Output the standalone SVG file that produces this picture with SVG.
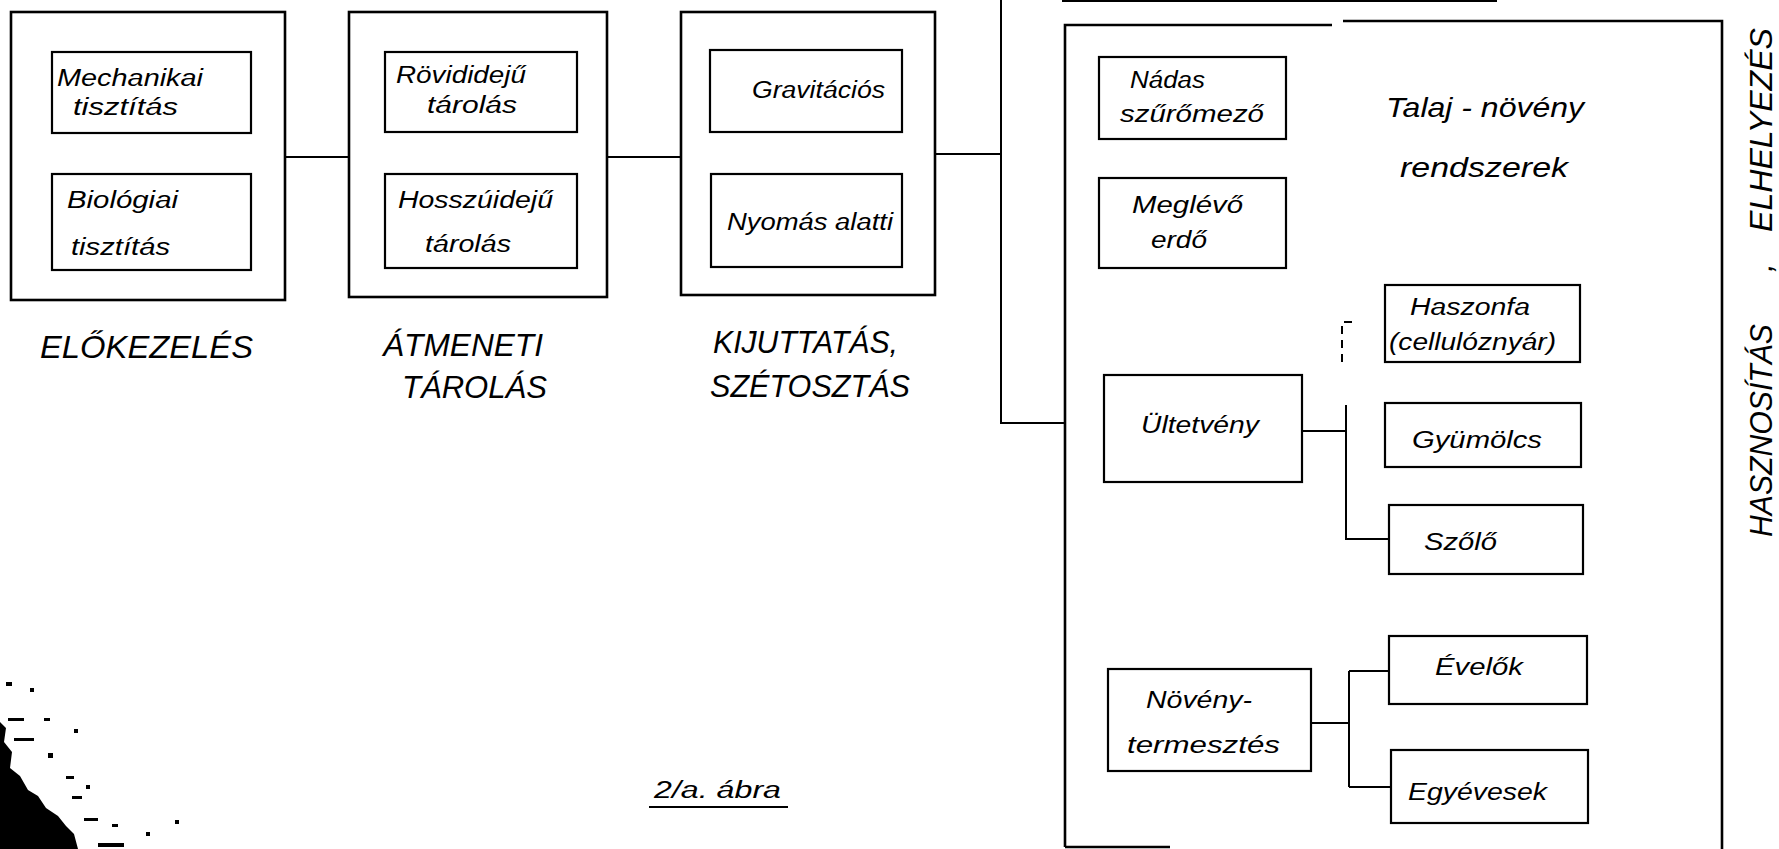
<svg xmlns="http://www.w3.org/2000/svg" width="1779" height="849" viewBox="0 0 1779 849">
<style>
.b{fill:none;stroke:#000;stroke-width:2.2}
.ob{fill:none;stroke:#000;stroke-width:2.6}
.c{fill:none;stroke:#000;stroke-width:2}
.t{font-family:"Liberation Sans",Arial,sans-serif;font-style:italic;font-size:23px;fill:#000}
.h{font-family:"Liberation Sans",Arial,sans-serif;font-style:italic;font-size:31px;fill:#000}
.m{font-family:"Liberation Sans",Arial,sans-serif;font-style:italic;font-size:28px;fill:#000}
.n{fill:#000}
</style>
<rect width="1779" height="849" fill="#fff"/>
<g id="connectors">
<path class="c" d="M285,157 H349"/>
<path class="c" d="M607,157 H681"/>
<path class="c" d="M935,154 H1001"/>
<path class="c" d="M1001,0 V423 H1066"/>
<path class="c" d="M1302,431 H1346"/>
<path class="c" d="M1346,405 V539 H1389"/>
<path class="c" d="M1311,723 H1349"/>
<path class="c" d="M1349,671 V787"/>
<path class="c" d="M1349,671 H1389"/>
<path class="c" d="M1349,787 H1391"/>
<path class="c" d="M1062,1 H1497"/>
<path class="c" d="M1352,322 H1342 V362" stroke-dasharray="8,6"/>
</g>
<g id="elokezeles">
<rect class="ob" x="11" y="12" width="274" height="288"/>
<text class="h" x="40" y="358" textLength="213" lengthAdjust="spacingAndGlyphs">ELŐKEZELÉS</text>
</g>
<g id="mechanikai">
<rect class="b" x="52" y="52" width="199" height="81"/>
<text class="t" x="57" y="86" textLength="146" lengthAdjust="spacingAndGlyphs">Mechanikai</text>
<text class="t" x="73" y="115" textLength="105" lengthAdjust="spacingAndGlyphs">tisztítás</text>
</g>
<g id="biologiai">
<rect class="b" x="52" y="174" width="199" height="96"/>
<text class="t" x="67" y="208" textLength="111" lengthAdjust="spacingAndGlyphs">Biológiai</text>
<text class="t" x="71" y="255" textLength="99" lengthAdjust="spacingAndGlyphs">tisztítás</text>
</g>
<g id="atmeneti">
<rect class="ob" x="349" y="12" width="258" height="285"/>
<text class="h" x="383" y="356" textLength="160" lengthAdjust="spacingAndGlyphs">ÁTMENETI</text>
<text class="h" x="402" y="398" textLength="145" lengthAdjust="spacingAndGlyphs">TÁROLÁS</text>
</g>
<g id="rovideju">
<rect class="b" x="385" y="52" width="192" height="80"/>
<text class="t" x="396" y="83" textLength="130" lengthAdjust="spacingAndGlyphs">Rövididejű</text>
<text class="t" x="427" y="113" textLength="90" lengthAdjust="spacingAndGlyphs">tárolás</text>
</g>
<g id="hosszuideju">
<rect class="b" x="385" y="174" width="192" height="94"/>
<text class="t" x="398" y="208" textLength="155" lengthAdjust="spacingAndGlyphs">Hosszúidejű</text>
<text class="t" x="425" y="252" textLength="86" lengthAdjust="spacingAndGlyphs">tárolás</text>
</g>
<g id="kijuttatas">
<rect class="ob" x="681" y="12" width="254" height="283"/>
<text class="h" x="713" y="353" textLength="185" lengthAdjust="spacingAndGlyphs">KIJUTTATÁS,</text>
<text class="h" x="710" y="397" textLength="200" lengthAdjust="spacingAndGlyphs">SZÉTOSZTÁS</text>
</g>
<g id="gravitacios">
<rect class="b" x="710" y="50" width="192" height="82"/>
<text class="t" x="752" y="98" textLength="133" lengthAdjust="spacingAndGlyphs">Gravitációs</text>
</g>
<g id="nyomas">
<rect class="b" x="711" y="174" width="191" height="93"/>
<text class="t" x="727" y="230" textLength="166" lengthAdjust="spacingAndGlyphs">Nyomás alatti</text>
</g>
<g id="talaj-noveny">
<path class="ob" d="M1065,847 V25 H1332 M1343,21 H1722 V849 M1065,847 H1170"/>
<text class="m" x="1386" y="117" textLength="198" lengthAdjust="spacingAndGlyphs">Talaj - növény</text>
<text class="m" x="1400" y="177" textLength="168" lengthAdjust="spacingAndGlyphs">rendszerek</text>
</g>
<g id="nadas">
<rect class="b" x="1099" y="57" width="187" height="82"/>
<text class="t" x="1130" y="88" textLength="75" lengthAdjust="spacingAndGlyphs">Nádas</text>
<text class="t" x="1120" y="122" textLength="144" lengthAdjust="spacingAndGlyphs">szűrőmező</text>
</g>
<g id="meglevo">
<rect class="b" x="1099" y="178" width="187" height="90"/>
<text class="t" x="1132" y="213" textLength="111" lengthAdjust="spacingAndGlyphs">Meglévő</text>
<text class="t" x="1151" y="248" textLength="56" lengthAdjust="spacingAndGlyphs">erdő</text>
</g>
<g id="haszonfa">
<rect class="b" x="1385" y="285" width="195" height="77"/>
<text class="t" x="1410" y="315" textLength="120" lengthAdjust="spacingAndGlyphs">Haszonfa</text>
<text class="t" x="1389" y="350" textLength="167" lengthAdjust="spacingAndGlyphs">(cellulóznyár)</text>
</g>
<g id="ultetveny">
<rect class="b" x="1104" y="375" width="198" height="107"/>
<text class="t" x="1141" y="433" textLength="118" lengthAdjust="spacingAndGlyphs">Ültetvény</text>
</g>
<g id="gyumolcs">
<rect class="b" x="1385" y="403" width="196" height="64"/>
<text class="t" x="1412" y="448" textLength="130" lengthAdjust="spacingAndGlyphs">Gyümölcs</text>
</g>
<g id="szolo">
<rect class="b" x="1389" y="505" width="194" height="69"/>
<text class="t" x="1424" y="550" textLength="73" lengthAdjust="spacingAndGlyphs">Szőlő</text>
</g>
<g id="novenytermesztes">
<rect class="b" x="1108" y="669" width="203" height="102"/>
<text class="t" x="1146" y="708" textLength="106" lengthAdjust="spacingAndGlyphs">Növény-</text>
<text class="t" x="1127" y="753" textLength="153" lengthAdjust="spacingAndGlyphs">termesztés</text>
</g>
<g id="evelok">
<rect class="b" x="1389" y="636" width="198" height="68"/>
<text class="t" x="1435" y="675" textLength="88" lengthAdjust="spacingAndGlyphs">Évelők</text>
</g>
<g id="egyevesek">
<rect class="b" x="1391" y="750" width="197" height="73"/>
<text class="t" x="1408" y="800" textLength="139" lengthAdjust="spacingAndGlyphs">Egyévesek</text>
</g>
<g id="side-labels">
<text class="h" transform="translate(1772,232) rotate(-90)" x="0" y="0" textLength="204" lengthAdjust="spacingAndGlyphs">ELHELYEZÉS</text>
<text class="h" transform="translate(1772,537) rotate(-90)" x="0" y="0" textLength="213" lengthAdjust="spacingAndGlyphs">HASZNOSÍTÁS</text>
<text class="h" transform="translate(1772,272) rotate(-90)" x="0" y="0">,</text>
</g>
<g id="caption">
<text class="t" x="654" y="798" textLength="127" lengthAdjust="spacingAndGlyphs">2/a. ábra</text>
<path class="c" d="M649,807 H788"/>
</g>
<g id="scan-noise">
<path class="n" d="M0,722 L6,728 L4,742 L12,752 L10,768 L20,776 L28,790 L38,796 L46,808 L58,816 L66,826 L74,834 L78,849 L0,849 Z"/>
<rect class="n" x="6" y="682" width="6" height="4"/>
<rect class="n" x="30" y="688" width="4" height="4"/>
<rect class="n" x="8" y="718" width="16" height="3"/>
<rect class="n" x="44" y="718" width="6" height="3"/>
<rect class="n" x="74" y="729" width="4" height="4"/>
<rect class="n" x="14" y="738" width="20" height="3"/>
<rect class="n" x="48" y="753" width="5" height="5"/>
<rect class="n" x="66" y="776" width="8" height="3"/>
<rect class="n" x="86" y="785" width="4" height="4"/>
<rect class="n" x="72" y="796" width="10" height="3"/>
<rect class="n" x="84" y="818" width="14" height="3"/>
<rect class="n" x="112" y="824" width="6" height="3"/>
<rect class="n" x="98" y="843" width="26" height="4"/>
<rect class="n" x="146" y="832" width="4" height="4"/>
<rect class="n" x="175" y="820" width="4" height="4"/>
</g>
</svg>
